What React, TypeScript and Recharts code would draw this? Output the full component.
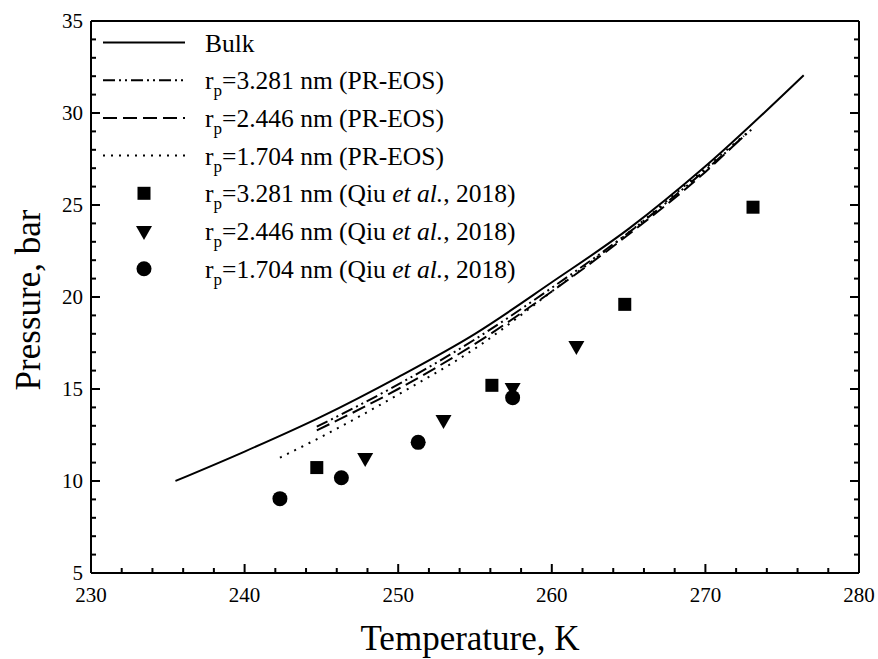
import { ComposedChart, Line, Scatter, XAxis, YAxis } from 'recharts';

// saturation curves (T in K, P in bar)
const bulkT = [235.5, 240, 245, 250, 255, 260, 265, 270, 276.4];
const bulkP = [10.0, 11.6, 13.5, 15.65, 18.0, 20.8, 23.7, 27.1, 32.05];

const pr3281T = [244.7, 250, 255, 260, 265, 270, 273];
const pr3281P = [12.95, 15.25, 17.7, 20.5, 23.5, 26.9, 29.1];

const pr2446T = [244.7, 250, 255, 260, 265, 270, 272.5];
const pr2446P = [12.75, 15.0, 17.45, 20.3, 23.4, 26.8, 28.75];

const pr1704T = [242.3, 245, 250, 255, 260, 265, 270, 272.9];
const pr1704P = [11.27, 12.4, 14.7, 17.2, 20.3, 23.5, 27.0, 29.06];

// Qiu et al., 2018
const qiu3281T = [244.7, 256.1, 264.75, 273.1];
const qiu3281P = [10.73, 15.2, 19.6, 24.88];

const qiu2446T = [247.85, 252.95, 257.45, 261.6];
const qiu2446P = [11.2, 13.26, 15.0, 17.28];

const qiu1704T = [242.3, 246.3, 251.3, 257.45];
const qiu1704P = [9.04, 10.18, 12.1, 14.53];

const xTicks = [230, 232, 234, 236, 238, 240, 242, 244, 246, 248, 250, 252, 254, 256, 258, 260, 262, 264, 266, 268, 270, 272, 274, 276, 278, 280];
const yTicks = [5, 6, 7, 8, 9, 10, 11, 12, 13, 14, 15, 16, 17, 18, 19, 20, 21, 22, 23, 24, 25, 26, 27, 28, 29, 30, 31, 32, 33, 34, 35];

const toPoints = (t: number[], p: number[]) => t.map((T, i) => ({ T, P: p[i] }));

const FONT = '"Liberation Serif", "Times New Roman", serif';
const INK = '#000';
const serif = { fontFamily: FONT };

const Square = (props: any) => (
  <rect x={props.cx - 6.5} y={props.cy - 6.5} width={13} height={13} fill={INK} />
);
const TriDown = (props: any) => (
  <polygon
    points={`${props.cx - 8},${props.cy - 6} ${props.cx + 8},${props.cy - 6} ${props.cx},${props.cy + 8}`}
    fill={INK}
  />
);
const Dot = (props: any) => <circle cx={props.cx} cy={props.cy} r={7.5} fill={INK} />;

// ticks point inward; tickSize/tickMargin are 0 so x,y sit on the axis line
const BottomTick = (props: any) => {
  const { x, y, payload } = props;
  const major = payload.value % 10 === 0;
  return (
    <g>
      <line x1={x} x2={x} y1={y} y2={y - (major ? 9 : 5)} stroke={INK} strokeWidth={2} />
      {major && (
        <text x={x} y={y + 29} textAnchor="middle" style={serif} fontSize={21} fill={INK}>
          {payload.value}
        </text>
      )}
    </g>
  );
};

const TopTick = (props: any) => {
  const { x, y, payload } = props;
  const major = payload.value % 10 === 0;
  return <line x1={x} x2={x} y1={y} y2={y + (major ? 9 : 5)} stroke={INK} strokeWidth={2} />;
};

const LeftTick = (props: any) => {
  const { x, y, payload } = props;
  const major = payload.value % 5 === 0;
  return (
    <g>
      <line x1={x} x2={x + (major ? 9 : 5)} y1={y} y2={y} stroke={INK} strokeWidth={2} />
      {major && (
        <text x={x - 8} y={y + 7} textAnchor="end" style={serif} fontSize={21} fill={INK}>
          {payload.value}
        </text>
      )}
    </g>
  );
};

const RightTick = (props: any) => {
  const { x, y, payload } = props;
  const major = payload.value % 5 === 0;
  return <line x1={x} x2={x - (major ? 9 : 5)} y1={y} y2={y} stroke={INK} strokeWidth={2} />;
};

const DASH_DOT = '12 4 2 4 2 4';
const DASHED = '14 6';
const DOTTED = '2 6';

const legendRows = [
  { label: 'Bulk', kind: 'line', dash: undefined },
  { label: '=3.281 nm (PR-EOS)', kind: 'line', dash: DASH_DOT },
  { label: '=2.446 nm (PR-EOS)', kind: 'line', dash: DASHED },
  { label: '=1.704 nm (PR-EOS)', kind: 'line', dash: DOTTED },
  { label: '=3.281 nm', kind: 'square' },
  { label: '=2.446 nm', kind: 'tri' },
  { label: '=1.704 nm', kind: 'dot' },
];

function Overlay() {
  return (
    <svg width={878} height={659} style={{ position: 'absolute', left: 0, top: 0, pointerEvents: 'none' }}>
      {legendRows.map((row, i) => {
        const cy = 42.5 + i * 37.7;
        let sample = null;
        if (row.kind === 'line') {
          sample = <line x1={103} x2={185} y1={cy} y2={cy} stroke={INK} strokeWidth={2} strokeDasharray={row.dash} />;
        } else if (row.kind === 'square') {
          sample = <Square cx={144} cy={cy} />;
        } else if (row.kind === 'tri') {
          sample = <TriDown cx={144} cy={cy + 1} />;
        } else {
          sample = <Dot cx={144} cy={cy} />;
        }
        return (
          <g key={i}>
            {sample}
            <text x={205} y={cy + 9} style={serif} fontSize={25.5} fill={INK}>
              {i === 0 ? (
                'Bulk'
              ) : (
                <>
                  r
                  <tspan dy={7} fontSize={17}>p</tspan>
                  <tspan dy={-7}>{row.label}</tspan>
                  {row.kind !== 'line' && (
                    <>
                      <tspan> (Qiu </tspan>
                      <tspan fontStyle="italic">et al.</tspan>
                      <tspan>, 2018)</tspan>
                    </>
                  )}
                </>
              )}
            </text>
          </g>
        );
      })}
      <text
        x={0}
        y={0}
        transform="translate(40, 300) rotate(-90)"
        textAnchor="middle"
        style={serif}
        fontSize={35}
        fill={INK}
      >
        Pressure, bar
      </text>
      <text x={470} y={650} textAnchor="middle" style={serif} fontSize={35} fill={INK}>
        Temperature, K
      </text>
    </svg>
  );
}

export default function App() {
  return (
    <div style={{ position: 'absolute', left: 0, top: 0, width: 878, height: 659, background: '#fff' }}>
      <ComposedChart width={878} height={659} margin={{ top: 20, right: 18, bottom: 26, left: 31 }}>
        <XAxis
          dataKey="T"
          type="number"
          domain={[230, 280]}
          ticks={xTicks}
          interval={0}
          height={60}
          tickSize={0}
          tickMargin={0}
          tickLine={false}
          axisLine={{ stroke: INK, strokeWidth: 2 }}
          tick={<BottomTick />}
          allowDataOverflow
        />
        <XAxis
          xAxisId="top"
          orientation="top"
          type="number"
          domain={[230, 280]}
          ticks={xTicks}
          interval={0}
          height={1}
          tickSize={0}
          tickMargin={0}
          tickLine={false}
          axisLine={{ stroke: INK, strokeWidth: 2 }}
          tick={<TopTick />}
          allowDataOverflow
        />
        <YAxis
          dataKey="P"
          type="number"
          domain={[5, 35]}
          ticks={yTicks}
          interval={0}
          width={60}
          tickSize={0}
          tickMargin={0}
          tickLine={false}
          axisLine={{ stroke: INK, strokeWidth: 2 }}
          tick={<LeftTick />}
          allowDataOverflow
        />
        <YAxis
          yAxisId="right"
          orientation="right"
          type="number"
          domain={[5, 35]}
          ticks={yTicks}
          interval={0}
          width={1}
          tickSize={0}
          tickMargin={0}
          tickLine={false}
          axisLine={{ stroke: INK, strokeWidth: 2 }}
          tick={<RightTick />}
          allowDataOverflow
        />
        <Line data={toPoints(bulkT, bulkP)} dataKey="P" type="monotone" stroke={INK} strokeWidth={2} dot={false} isAnimationActive={false} />
        <Line data={toPoints(pr3281T, pr3281P)} dataKey="P" type="monotone" stroke={INK} strokeWidth={2} strokeDasharray={DASH_DOT} dot={false} isAnimationActive={false} />
        <Line data={toPoints(pr2446T, pr2446P)} dataKey="P" type="monotone" stroke={INK} strokeWidth={2} strokeDasharray={DASHED} dot={false} isAnimationActive={false} />
        <Line data={toPoints(pr1704T, pr1704P)} dataKey="P" type="monotone" stroke={INK} strokeWidth={2} strokeDasharray={DOTTED} dot={false} isAnimationActive={false} />
        <Scatter data={toPoints(qiu3281T, qiu3281P)} dataKey="P" shape={Square} isAnimationActive={false} />
        <Scatter data={toPoints(qiu2446T, qiu2446P)} dataKey="P" shape={TriDown} isAnimationActive={false} />
        <Scatter data={toPoints(qiu1704T, qiu1704P)} dataKey="P" shape={Dot} isAnimationActive={false} />
      </ComposedChart>
      <Overlay />
    </div>
  );
}
